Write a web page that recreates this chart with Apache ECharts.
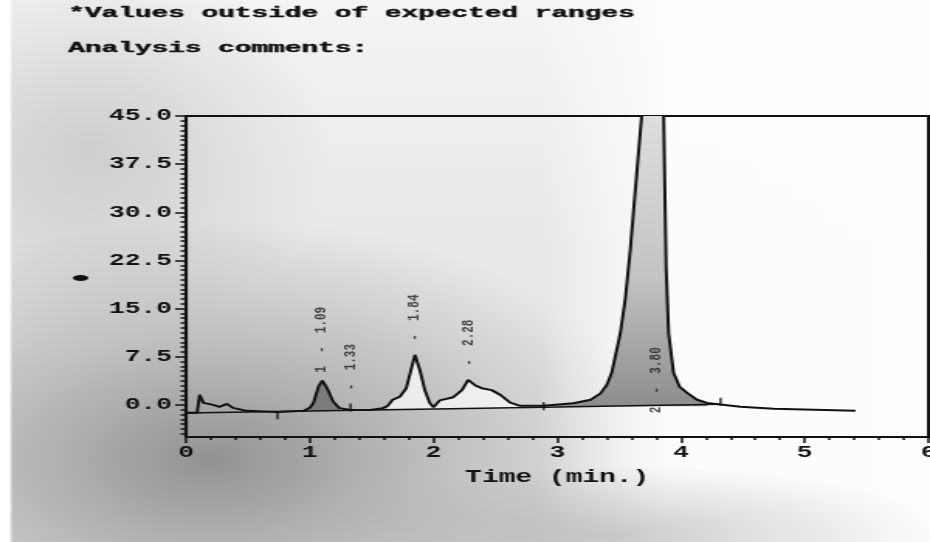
<!DOCTYPE html>
<html>
<head>
<meta charset="utf-8">
<script src="https://cdn.jsdelivr.net/npm/echarts@6/dist/echarts.min.js"></script>
<style>
  html, body { margin: 0; padding: 0; }
  #wrap {
    position: relative; width: 930px; height: 542px; overflow: hidden;
    background:
      linear-gradient(to right, #ffffff 0px, #ffffff 9px, rgba(255,255,255,0) 13px),
      radial-gradient(ellipse 320px 70px at 620px 535px, rgba(165,165,165,0.55) 0%, rgba(200,200,200,0) 100%),
      linear-gradient(to right, rgba(255,255,255,0) 58%, rgba(255,255,255,0.85) 72%, rgba(255,255,255,0.9) 100%),
      radial-gradient(ellipse 460px 240px at 210px 460px, rgba(125,125,125,0.8) 0%, rgba(150,150,150,0.55) 45%, rgba(200,200,200,0) 100%),
      radial-gradient(ellipse 240px 200px at 90px 150px, rgba(175,175,175,0.5) 0%, rgba(200,200,200,0) 100%),
      linear-gradient(to bottom, #f4f4f4 0%, #e8e8e8 45%, #e8e8e8 100%);
  }
  #chart {
    position: absolute; left: 0; top: 0; width: 600px; height: 542px;
    transform: scaleX(1.55); transform-origin: 0 0;
  }
</style>
</head>
<body>
<div id="wrap"><div id="chart"></div></div>
<script>
// ---- data ----
const titleLine1 = "*Values outside of expected ranges";
const titleLine2 = "Analysis comments:";
const xAxisName = "Time (min.)";
const yTickLabels = [0, 7.5, 15, 22.5, 30, 37.5, 45];

// signal: retention time (min) and detector response
const sigT = [0.00,0.09,0.11,0.14,0.22,0.27,0.33,0.38,0.49,0.74,0.95,1.00,1.03,1.07,1.10,1.14,1.19,1.24,1.33,1.49,1.59,1.63,1.67,1.73,1.78,1.85,1.89,1.93,1.97,2.00,2.05,2.16,2.23,2.28,2.34,2.39,2.47,2.54,2.62,2.70,2.89,3.13,3.27,3.35,3.40,3.44,3.51,3.55,3.59,3.67,3.75,3.84,3.86,3.88,3.90,3.94,3.99,4.05,4.13,4.21,4.48,4.75,5.41];
const sigV = [-1.24,-1.24,1.56,0.31,0.0,-0.31,0.16,-0.47,-0.93,-1.09,-0.93,-0.47,0.3,2.8,3.8,2.6,0.5,-0.5,-0.8,-0.8,-0.5,-0.15,0.8,1.3,2.6,7.8,5.4,2.3,0.3,-0.35,0.7,1.2,2.3,3.9,3.0,2.6,2.3,1.56,0.36,-0.15,-0.15,0.26,0.8,1.8,3.1,5.0,11.2,16.5,24.1,42.3,60,80,45,21.5,11.2,5.0,2.8,1.87,0.8,0.3,-0.3,-0.6,-0.93];

// integration baseline
const baseT = [0, 2.89, 4.32];
const baseV = [-1.25, -0.35, 0.1];
// baseline event ticks
const evtT = [0.74, 1.33, 2.89, 4.32];
const evtV = [-1.6, -0.4, -0.2, 0.5];

// peak annotations
const peakT = [1.09, 1.33, 1.84, 2.28, 3.80];
const peakLabelV = [5.0, 2.3, 10.0, 6.1, -1.3];
const peakText = ["1  -  1.09", "-  1.33", "-  1.84", "-  2.28", "2  -  3.80"];

// shaded peak regions [start, end, fill origin]
const fillRanges = [[1.00, 1.24, -0.9], [1.63, 2.70, -0.6], [2.89, 4.25, -0.2]];
const fillColors = ['#7c7c7c', 'rgba(245,245,245,0.85)', null];

// ---- build ----
const pairs = (a, b) => a.map((t, i) => [t, b[i]]);
const signal = pairs(sigT, sigV);
const mono = '"Liberation Mono", "DejaVu Sans Mono", monospace';

const minorY = [];
for (let v = -4.5; v <= 45.001; v += 0.75) minorY.push(Math.round(v * 100) / 100);

const mainFill = {
  type: 'linear', global: true, x: 0, y: 116, x2: 0, y2: 405,
  colorStops: [{offset: 0, color: '#dedede'}, {offset: 0.55, color: '#c4c4c4'}, {offset: 1, color: '#8e8e8e'}]
};

const fillSeries = fillRanges.map((r, i) => ({
  type: 'line',
  data: signal.filter(p => p[0] >= r[0] - 1e-9 && p[0] <= r[1] + 1e-9),
  symbol: 'none',
  lineStyle: { width: 0, opacity: 0 },
  areaStyle: { origin: r[2], color: fillColors[i] || mainFill, opacity: 1 },
  z: 1,
  silent: true
}));

const chart = echarts.init(document.getElementById('chart'), null, { width: 600, height: 542 });
chart.setOption({
  animation: false,
  backgroundColor: 'transparent',
  grid: { left: 120, right: 1, top: 116, bottom: 105, outerBoundsMode: 'none', containLabel: false,
    show: true, borderColor: '#111', borderWidth: 2, backgroundColor: 'transparent' },
  graphic: [
    { type: 'text', x: 44, y: 13, scaleX: 1.28, style: { text: titleLine1, font: 'bold 14px ' + mono, fill: '#111', stroke: '#111', lineWidth: 0.4, verticalAlign: 'middle' } },
    { type: 'text', x: 44, y: 48, scaleX: 1.28, style: { text: titleLine2, font: 'bold 14px ' + mono, fill: '#111', stroke: '#111', lineWidth: 0.4, verticalAlign: 'middle' } },
    { type: 'ellipse', shape: { cx: 52, cy: 278, rx: 5, ry: 3 }, style: { fill: '#111' } }
  ],
  xAxis: {
    type: 'value', min: 0, max: 6, interval: 1,
    name: xAxisName, nameLocation: 'middle', nameGap: 31,
    nameTextStyle: { fontFamily: mono, fontWeight: 'bold', fontSize: 18, color: '#111' },
    axisLine: { show: true, onZero: false, lineStyle: { color: '#111', width: 2 } },
    axisTick: { show: true, length: 6, lineStyle: { color: '#111', width: 1.5 } },
    minorTick: { show: true, splitNumber: 5, length: 3, lineStyle: { color: '#111', width: 1.5 } },
    axisLabel: { fontFamily: mono, fontWeight: 'bold', fontSize: 17, color: '#111', margin: 7 },
    splitLine: { show: false }
  },
  yAxis: [{
    type: 'value', min: -5, max: 45, position: 'left',
    axisLine: { show: true, onZero: false, lineStyle: { color: '#111', width: 2.2 } },
    axisTick: { show: true, length: 7, customValues: yTickLabels, lineStyle: { color: '#111', width: 1.5 } },
    axisLabel: { customValues: yTickLabels, fontFamily: mono, fontWeight: 'bold', fontSize: 17, color: '#111', margin: 9,
      formatter: v => v.toFixed(1) },
    splitLine: { show: false }
  }, {
    type: 'value', min: -5, max: 45, position: 'left',
    axisLine: { show: false },
    axisTick: { show: true, length: 3.5, customValues: minorY, lineStyle: { color: '#111', width: 1.5 } },
    axisLabel: { show: false },
    splitLine: { show: false }
  }],
  series: fillSeries.concat([
    {
      type: 'line', data: pairs(baseT, baseV), symbol: 'none', z: 2,
      lineStyle: { color: '#111', width: 1.5 }, silent: true
    },
    {
      type: 'line', data: signal, symbol: 'none', z: 3, clip: true,
      lineStyle: { color: '#111', width: 2 }, silent: true
    },
    {
      type: 'scatter', data: pairs(evtT, evtV), symbol: 'rect', symbolSize: [1.6, 8], z: 4,
      itemStyle: { color: '#111' }, silent: true
    },
    {
      type: 'scatter', data: pairs(peakT, peakLabelV), symbolSize: 0, z: 5, silent: true,
      label: {
        show: true, position: 'right', distance: 0, rotate: 90,
        formatter: p => peakText[p.dataIndex],
        fontFamily: mono, fontWeight: 'bold', fontSize: 11, color: '#222'
      }
    }
  ])
});
</script>
</body>
</html>
